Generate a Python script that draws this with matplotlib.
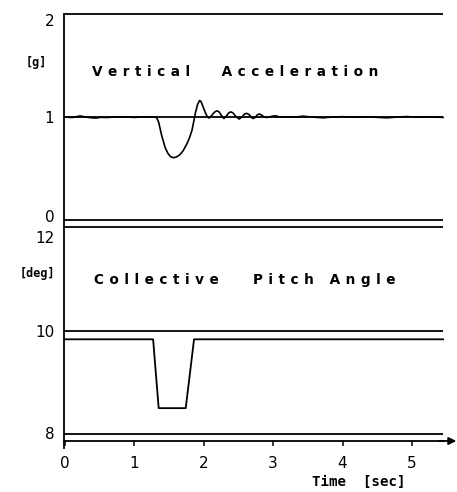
import matplotlib
matplotlib.use("Agg")
import matplotlib.pyplot as plt

# ---------------- data ----------------
accel_t = [0.00, 0.10, 0.22, 0.30, 0.38, 0.45, 0.52, 0.60, 0.75, 0.90, 1.00, 1.10, 1.20, 1.28,
           1.32, 1.35, 1.39, 1.44, 1.48, 1.52, 1.56, 1.60, 1.65, 1.70, 1.75, 1.79, 1.83, 1.86,
           1.88, 1.91, 1.94, 1.96, 1.99, 2.03, 2.06, 2.08, 2.12, 2.16, 2.19, 2.22, 2.26, 2.29,
           2.32, 2.36, 2.39, 2.42, 2.47, 2.51, 2.55, 2.59, 2.62, 2.65, 2.69, 2.71, 2.74, 2.77,
           2.80, 2.83, 2.87, 2.91, 2.97, 3.03, 3.10, 3.20, 3.30, 3.43, 3.55, 3.72, 3.85, 4.00,
           4.20, 4.40, 4.64, 4.80, 4.93, 5.10, 5.30, 5.45]
accel_g = [1.000, 0.995, 1.010, 1.000, 0.992, 0.990, 0.997, 0.995, 1.002, 1.000, 0.996, 1.000, 1.002, 1.000,
           0.995, 0.95, 0.83, 0.71, 0.65, 0.615, 0.605, 0.61, 0.63, 0.67, 0.73, 0.79, 0.87, 0.97,
           1.04, 1.12, 1.16, 1.15, 1.10, 1.03, 0.995, 0.99, 1.02, 1.05, 1.06, 1.05, 1.01, 0.985,
           1.005, 1.04, 1.05, 1.04, 1.00, 0.98, 1.00, 1.03, 1.035, 1.025, 0.995, 0.985, 0.995, 1.02,
           1.03, 1.02, 1.00, 0.995, 1.005, 1.012, 1.000, 1.002, 0.998, 1.008, 1.000, 0.992, 1.000, 1.003,
           0.998, 1.000, 0.992, 1.000, 1.004, 0.998, 1.000, 0.996]

pitch_t = [0.00, 1.27, 1.35, 1.74, 1.86, 5.45]
pitch_deg = [9.83, 9.83, 8.50, 8.50, 9.83, 9.83]

accel_ref = [0, 1, 2]          # horizontal reference lines [g]
pitch_ref = [8, 10, 12]        # horizontal reference lines [deg]
time_ticks = [0, 1, 2, 3, 4, 5]
accel_labels = ["0", "1", "2"]
pitch_labels = ["8", "10", "12"]

# ---------------- layout ----------------
W, H = 457, 492
fig = plt.figure(figsize=(W / 100, H / 100), dpi=100)

x0_px, x1_px = 64, 457
xlim = (-0.0144, 5.65)
t_end = 5.45

def fy(px):
    return 1 - px / H

ax1 = fig.add_axes([x0_px / W, fy(227), (x1_px - x0_px) / W, fy(14) - fy(227)])
ax2 = fig.add_axes([x0_px / W, fy(448), (x1_px - x0_px) / W, fy(227) - fy(448)])

ax1.set_xlim(*xlim)
ax1.set_ylim(-0.068, 2.0)
ax2.set_xlim(*xlim)
ax2.set_ylim(7.73, 12.0)

lw = 1.3
for ax in (ax1, ax2):
    for s in ("top", "right"):
        ax.spines[s].set_visible(False)
    ax.spines["left"].set_linewidth(lw)
    ax.patch.set_visible(False)

ax1.spines["bottom"].set_visible(False)
ax1.set_xticks([])

# reference lines
ax1.hlines(accel_ref, xlim[0], t_end, colors="k", lw=lw, clip_on=False)
ax2.hlines(pitch_ref, xlim[0], t_end, colors="k", lw=lw, clip_on=False)

# signals
ax1.plot(accel_t, accel_g, color="k", lw=1.2, clip_on=False)
ax2.plot(pitch_t, pitch_deg, color="k", lw=1.3, clip_on=False)

# time axis
base = 7.865
ax2.spines["bottom"].set_position(("data", base))
ax2.spines["bottom"].set_bounds(xlim[0], t_end)
ax2.spines["bottom"].set_linewidth(lw)
ax2.annotate("", xy=(5.64, base), xytext=(5.40, base),
             arrowprops=dict(arrowstyle="-|>", color="k", lw=lw, mutation_scale=11,
                             shrinkA=0, shrinkB=0), annotation_clip=False)
ax2.set_xticks(time_ticks)
ax2.set_xticklabels([str(t) for t in time_ticks])
ax2.tick_params(axis="x", direction="out", length=3.6, width=1.1, pad=7.5, labelsize=11)

# y labels (hand placed in the original, slightly off their lines)
ax1.set_yticks([0.04, 1.0, 1.94])
ax1.set_yticklabels(accel_labels)
ax2.set_yticks([8.02, 10.0, 11.80])
ax2.set_yticklabels(pitch_labels)
for ax in (ax1, ax2):
    ax.tick_params(axis="y", length=0, pad=7, labelsize=11)

# ---------------- texts ----------------
sep = "\u2009\u2009"           # letter tracking
def spaced(words, gaps):
    out = sep.join(words[0])
    for w, g in zip(words[1:], gaps):
        out += sep + g + sep + sep.join(w)
    return out

title_font = dict(family=["DejaVu Sans"], fontweight="bold", fontsize=9.8)

ax1.text(0.39, 1.437, spaced(["Vertical", "Acceleration"], ["\u2003\u2002"]),
         ha="left", va="center", **title_font)
ax2.text(0.42, 10.98, spaced(["Collective", "Pitch", "Angle"], ["\u2003\u2002\u2009", " "]),
         ha="left", va="center", **title_font)

ax1.text(-0.043, 1.53, "[g]", transform=ax1.get_yaxis_transform(), ha="right", va="center",
         family=["DejaVu Sans Mono"], fontweight="bold", fontsize=8.5)
ax2.text(-0.022, 11.11, "[deg]", transform=ax2.get_yaxis_transform(), ha="right", va="center",
         family=["DejaVu Sans Mono"], fontweight="bold", fontsize=8.5)
ax2.text(3.56, 7.07, "Time  [sec]", ha="left", va="center",
         family=["DejaVu Sans Mono"], fontweight="bold", fontsize=10.2)

fig.savefig("out.png", dpi=100)
